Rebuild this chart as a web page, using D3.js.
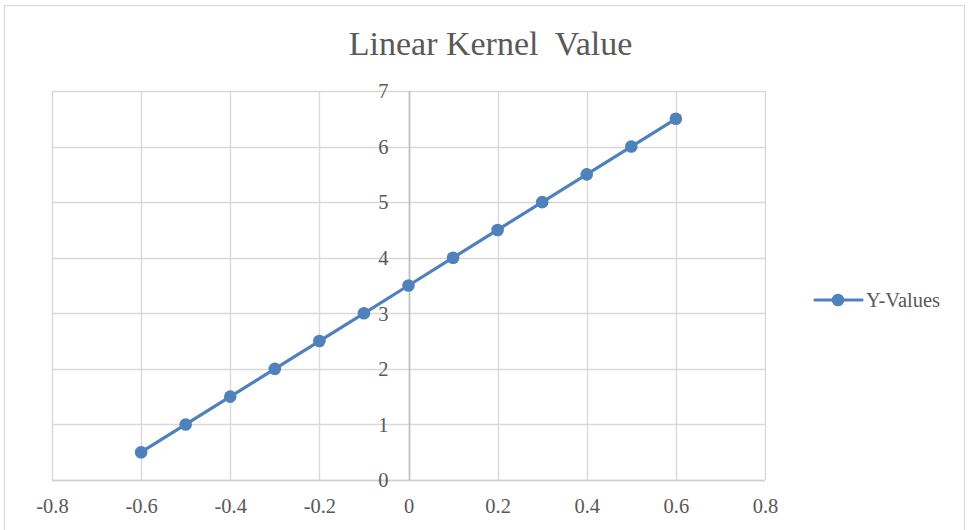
<!DOCTYPE html>
<html><head><meta charset="utf-8">
<script src="https://cdn.jsdelivr.net/npm/d3@7"></script>
<style>body{margin:0;background:#fff}svg{display:block}</style>
</head><body>
<svg id="c" width="968" height="530"></svg>
<script>
const xValues = [-0.6, -0.5, -0.4, -0.3, -0.2, -0.1, 0, 0.1, 0.2, 0.3, 0.4, 0.5, 0.6];
const yValues = [0.5, 1, 1.5, 2, 2.5, 3, 3.5, 4, 4.5, 5, 5.5, 6, 6.5];
const xTicks = [-0.8, -0.6, -0.4, -0.2, 0, 0.2, 0.4, 0.6, 0.8];
const xTickLabels = ["-0.8", "-0.6", "-0.4", "-0.2", "0", "0.2", "0.4", "0.6", "0.8"];
const yTicks = [0, 1, 2, 3, 4, 5, 6, 7];
const yTickLabels = ["0", "1", "2", "3", "4", "5", "6", "7"];
const title = "Linear Kernel  Value";
const seriesName = "Y-Values";

const svg = d3.select("#c");
const font = "'Liberation Serif', 'Times New Roman', serif";
const color = "#4f81bd";
const textColor = "#595959";

svg.append("rect").attr("x", 4.5).attr("y", 5.5).attr("width", 960).attr("height", 530)
  .attr("fill", "#fff").attr("stroke", "#d9d9d9").attr("stroke-width", 1.2);

const x = d3.scaleLinear().domain([-0.8, 0.8]).range([52, 765]);
const y = d3.scaleLinear().domain([0, 7]).range([480, 91]);

const g = svg.append("g");
g.selectAll(".vg").data(xTicks).join("line")
  .attr("x1", d => Math.round(x(d)) + 0.5).attr("x2", d => Math.round(x(d)) + 0.5)
  .attr("y1", y(7)).attr("y2", y(0))
  .attr("stroke", "#d9d9d9").attr("stroke-width", 1.4);
g.selectAll(".hg").data(yTicks).join("line")
  .attr("y1", d => Math.round(y(d)) + 0.5).attr("y2", d => Math.round(y(d)) + 0.5)
  .attr("x1", x(-0.8)).attr("x2", x(0.8))
  .attr("stroke", "#d9d9d9").attr("stroke-width", 1.4);
g.append("line").attr("x1", Math.round(x(0)) + 0.5).attr("x2", Math.round(x(0)) + 0.5)
  .attr("y1", y(7)).attr("y2", y(0)).attr("stroke", "#bfbfbf").attr("stroke-width", 1.6);
g.append("line").attr("x1", x(-0.8)).attr("x2", x(0.8))
  .attr("y1", Math.round(y(0)) + 0.5).attr("y2", Math.round(y(0)) + 0.5)
  .attr("stroke", "#cfcfcf").attr("stroke-width", 1.6);

const xAxis = d3.axisBottom(x).tickValues(xTicks).tickSize(0).tickPadding(0)
  .tickFormat((d, i) => xTickLabels[i]);
const xa = svg.append("g").attr("transform", `translate(0,513)`).call(xAxis);
xa.select(".domain").remove();
xa.selectAll("text").attr("font-family", font).attr("font-size", 20.5).attr("fill", textColor)
  .attr("dy", null).attr("y", 0);

const yAxis = d3.axisLeft(y).tickValues(yTicks).tickSize(0).tickPadding(0)
  .tickFormat((d, i) => yTickLabels[i]);
const ya = svg.append("g").attr("transform", `translate(${x(0) - 20},0)`).call(yAxis);
ya.select(".domain").remove();
ya.selectAll("text").attr("font-family", font).attr("font-size", 20.5).attr("fill", textColor)
  .attr("dy", "0.33em");

const pts = xValues.map((v, i) => [v, yValues[i]]);
svg.append("path").datum(pts)
  .attr("d", d3.line().x(d => x(d[0])).y(d => y(d[1])))
  .attr("fill", "none").attr("stroke", color).attr("stroke-width", 3.2)
  .attr("stroke-linecap", "round");
svg.selectAll(".pt").data(pts).join("circle")
  .attr("cx", d => x(d[0])).attr("cy", d => y(d[1])).attr("r", 6.3)
  .attr("fill", color);

svg.append("text").attr("x", 490.5).attr("y", 55).attr("text-anchor", "middle")
  .attr("font-family", font).attr("font-size", 34).attr("fill", textColor)
  .attr("xml:space", "preserve").style("white-space", "pre").text(title);

const lg = svg.append("g");
lg.append("line").attr("x1", 815).attr("x2", 862).attr("y1", 300).attr("y2", 300)
  .attr("stroke", color).attr("stroke-width", 3.2).attr("stroke-linecap", "round");
lg.append("circle").attr("cx", 838).attr("cy", 300).attr("r", 6.3).attr("fill", color);
lg.append("text").attr("x", 866).attr("y", 307)
  .attr("font-family", font).attr("font-size", 20.5).attr("fill", textColor).text(seriesName);
</script>
</body></html>
